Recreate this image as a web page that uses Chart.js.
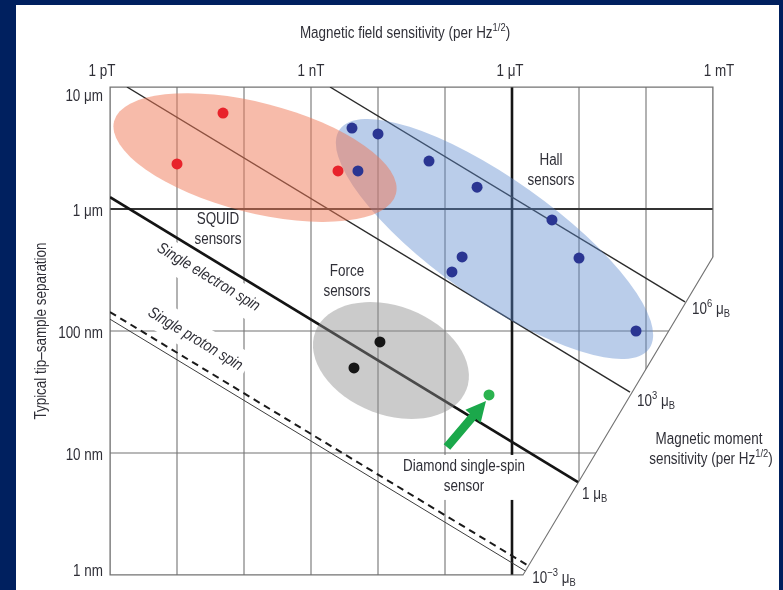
<!DOCTYPE html>
<html lang="en">
<head>
<meta charset="utf-8">
<title>Magnetic sensors: field sensitivity vs tip–sample separation</title>
<script src="https://cdn.jsdelivr.net/npm/chart.js@4.4.1/dist/chart.umd.min.js"></script>
<style>
  html, body { margin: 0; padding: 0; background: #00205f; }
  canvas { display: block; }
</style>
</head>
<body>
<canvas id="chart" width="783" height="590"></canvas>
<script>
// ---------- axes (field in T/√Hz, separation in m) ----------
const fieldGrid = [1e-12, 1e-11, 1e-10, 1e-9, 1e-8, 1e-7, 1e-6, 1e-5, 1e-4, 1e-3];
const distanceGrid = [1e-9, 1e-8, 1e-7, 1e-6, 1e-5];
const fieldTicks = [1e-12, 1e-9, 1e-6, 1e-3];
const fieldTickLabels = ['1 pT', '1 nT', '1 μT', '1 mT'];
const distanceTickLabels = ['1 nm', '10 nm', '100 nm', '1 μm', '10 μm'];

// ---------- reported sensors ----------
const squidField = [4.86e-11, 1.0e-11, 2.53e-9];
const squidDistance = [6.12e-6, 2.34e-6, 2.05e-6];
const hallField = [4.09e-9, 1.0e-8, 5.02e-9, 5.77e-8, 3.01e-7, 3.95e-6, 1.80e-7, 1.27e-7, 1.0e-5, 7.10e-5];
const hallDistance = [4.61e-6, 4.12e-6, 2.05e-6, 2.47e-6, 1.51e-6, 8.13e-7, 4.05e-7, 3.05e-7, 3.96e-7, 1.0e-7];
const forceField = [1.07e-8, 4.38e-9];
const forceDistance = [8.13e-8, 4.98e-8];
const diamondField = [4.54e-7];
const diamondDistance = [2.99e-8];

// ---------- constant magnetic-moment lines (μB per √Hz) ----------
const momentExponents = ['6', '3', '', '−3'];
const momentStartField = [1.92e-9, 1.79e-12, 1e-12, 1e-12];
const momentStartDistance = [1e-5, 1e-5, 1.25e-6, 1.25e-7];
const momentEndField = [3.82e-4, 5.77e-5, 9.66e-6, 1.58e-6];
const momentEndDistance = [1.73e-7, 3.16e-8, 5.78e-9, 1.08e-9];
const protonField = [1e-12, 1.76e-6];
const protonDistance = [1.43e-7, 1.19e-9];
// the slanted moment axis closing the plot on the lower right
const momentAxisField = [1e-3, 1.46e-6];
const momentAxisDistance = [4.05e-7, 1e-9];

// ---------- sensor regions: centre and two conjugate semi-axis ends ----------
const hallRegion = { center: [5.48e-7, 5.68e-7], axisA: [1.12e-4, 7.19e-8], axisB: [1.66e-7, 2.25e-7] };
const forceRegion = { center: [1.56e-8, 5.73e-8], axisA: [2.09e-7, 3.31e-8], axisB: [8.0e-9, 2.20e-8] };
const squidRegion = { center: [1.46e-10, 2.64e-6], axisA: [1.85e-8, 1.33e-6], axisB: [9.08e-11, 9.68e-7] };

// arrow pointing at the diamond sensor
const arrowTail = [1.07e-7, 1.12e-8];
const arrowTip = [4.09e-7, 2.67e-8];

// ---------- look ----------
const FONT = "'Liberation Sans', Arial, sans-serif";
const SQUEEZE = 0.84;          // condensed lettering
const SIZE = 16;
const INK = '#2f2f37';
const NAVY = '#00205f';
const look = {
  grid: { color: '#737373', width: 1.1 },
  fieldMajor: { value: 1e-6, color: '#151515', width: 2.6 },
  distanceMajor: { value: 1e-6, color: '#333333', width: 1.8 },
  moment: [
    { color: '#2b2b2b', width: 1.4, label: [7, 6] },
    { color: '#2b2b2b', width: 1.4, label: [7, 8] },
    { color: '#141414', width: 2.7, label: [4, 11] },
    { color: '#3c3c3c', width: 1.0, label: [7, 6] }
  ],
  proton: { color: '#1a1a1a', width: 2.0, dash: [7, 5] },
  regions: [
    { region: hallRegion, fill: 'rgba(90,135,205,0.42)' },
    { region: forceRegion, fill: 'rgba(140,140,140,0.45)' },
    { region: squidRegion, fill: 'rgba(240,120,85,0.5)' }
  ],
  arrow: { color: '#1ba84b', shaft: 4.3, headHalf: 10, headLength: 20 },
  fieldLabelShift: [-8, 0, -2, 6],
  fieldLabelGap: 17,
  distanceLabelGap: 7
};

const notes = [
  { lines: ['SQUID', 'sensors'], at: [4.09e-11, 6.92e-7] },
  { lines: ['Force', 'sensors'], at: [3.44e-9, 2.59e-7] },
  { lines: ['Hall', 'sensors'], at: [3.82e-6, 2.11e-6] },
  { lines: ['Diamond single-spin', 'sensor'], at: [1.92e-7, 6.61e-9], box: [-46, -20, 112, 45] }
];
const slantNotes = [
  { text: 'Single electron spin', at: [3.01e-11, 2.82e-7], line: 'electron', shift: 3 },
  { text: 'Single proton spin', at: [1.92e-11, 8.77e-8], line: 'proton', shift: 0 }
];

Chart.defaults.font.family = FONT;
Chart.defaults.color = INK;

function px(chart, B, r) {
  return [chart.scales.x.getPixelForValue(B), chart.scales.y.getPixelForValue(r)];
}
function setFont(ctx, size, italic) {
  ctx.font = (italic ? 'italic ' : '') + size + 'px ' + FONT;
}
function richWidth(ctx, parts, size, italic) {
  let w = 0;
  for (const [t, k] of parts) { setFont(ctx, k ? size * 0.7 : size, italic); w += ctx.measureText(t).width; }
  return w * SQUEEZE;
}
// condensed text runs with optional superscript / subscript; y is the visual middle of the capitals
function drawRich(ctx, parts, x, y, size, align, italic) {
  const w = richWidth(ctx, parts, size, italic);
  const x0 = align === 'center' ? x - w / 2 : align === 'right' ? x - w : x;
  ctx.save();
  ctx.translate(x0, y);
  ctx.scale(SQUEEZE, 1);
  ctx.textAlign = 'left';
  ctx.textBaseline = 'alphabetic';
  const base = size * 0.36;
  let cx = 0;
  for (const [t, k] of parts) {
    setFont(ctx, k ? size * 0.7 : size, italic);
    const dy = k === 'sup' ? -size * 0.42 : k === 'sub' ? size * 0.2 : 0;
    ctx.fillText(t, cx, base + dy);
    cx += ctx.measureText(t).width;
  }
  ctx.restore();
}

function lineAngle(chart, which) {
  let a, b;
  if (which === 'proton') {
    a = px(chart, protonField[0], protonDistance[0]);
    b = px(chart, protonField[1], protonDistance[1]);
  } else {
    a = px(chart, momentStartField[2], momentStartDistance[2]);
    b = px(chart, momentEndField[2], momentEndDistance[2]);
  }
  return Math.atan2(b[1] - a[1], b[0] - a[0]);
}

function frameOutline(chart) {
  const xs = chart.scales.x, ys = chart.scales.y;
  const top = ys.getPixelForValue(distanceGrid[distanceGrid.length - 1]);
  const bottom = ys.getPixelForValue(distanceGrid[0]);
  const left = xs.getPixelForValue(fieldGrid[0]);
  const right = xs.getPixelForValue(fieldGrid[fieldGrid.length - 1]);
  return [[left, top], [right, top],
    px(chart, momentAxisField[0], momentAxisDistance[0]),
    px(chart, momentAxisField[1], momentAxisDistance[1]),
    [left, bottom]];
}
function tracePoly(ctx, pts) {
  ctx.beginPath();
  pts.forEach(([x, y], i) => (i ? ctx.lineTo(x, y) : ctx.moveTo(x, y)));
  ctx.closePath();
}

function drawGrid(chart) {
  const ctx = chart.ctx, xs = chart.scales.x, ys = chart.scales.y;
  const outline = frameOutline(chart);
  const top = outline[0][1], bottom = outline[4][1], left = outline[0][0], right = outline[1][0];
  ctx.save();
  tracePoly(ctx, outline);
  ctx.clip();
  const stroke = (s, x0, y0, x1, y1) => {
    ctx.strokeStyle = s.color; ctx.lineWidth = s.width;
    ctx.beginPath(); ctx.moveTo(x0, y0); ctx.lineTo(x1, y1); ctx.stroke();
  };
  distanceGrid.forEach(v => {
    const y = ys.getPixelForValue(v);
    if (v !== look.distanceMajor.value) stroke(look.grid, left, y, right, y);
  });
  fieldGrid.forEach(v => {
    const x = xs.getPixelForValue(v);
    if (v !== look.fieldMajor.value) stroke(look.grid, x, top, x, bottom);
  });
  const ym = ys.getPixelForValue(look.distanceMajor.value);
  stroke(look.distanceMajor, left, ym, right, ym);
  const xm = xs.getPixelForValue(look.fieldMajor.value);
  stroke(look.fieldMajor, xm, top, xm, bottom);
  ctx.restore();

  ctx.save();
  ctx.strokeStyle = look.grid.color; ctx.lineWidth = look.grid.width;
  tracePoly(ctx, outline);
  ctx.stroke();
  ctx.restore();
}

function drawMasks(chart) {
  const ctx = chart.ctx;
  ctx.save();
  ctx.fillStyle = '#ffffff';
  notes.filter(n => n.box).forEach(n => {
    const [x, y] = px(chart, n.at[0], n.at[1]);
    ctx.fillRect(x + n.box[0], y + n.box[1], n.box[2], n.box[3]);
  });
  slantNotes.forEach(n => {
    const [x, y] = px(chart, n.at[0], n.at[1]);
    const w = richWidth(ctx, [[n.text, '']], SIZE, true);
    ctx.save();
    ctx.translate(x, y);
    ctx.rotate(lineAngle(chart, n.line));
    ctx.fillRect(-w / 2 - 5, -15 + n.shift, w + 10, 30);
    ctx.restore();
  });
  ctx.restore();
}

function drawRegions(chart) {
  const ctx = chart.ctx, area = chart.chartArea;
  ctx.save();
  ctx.beginPath();
  ctx.rect(area.left, area.top, area.right - area.left, area.bottom - area.top);
  ctx.clip();
  look.regions.forEach(({ region, fill }) => {
    const c = px(chart, region.center[0], region.center[1]);
    const a = px(chart, region.axisA[0], region.axisA[1]);
    const b = px(chart, region.axisB[0], region.axisB[1]);
    ctx.save();
    ctx.transform(a[0] - c[0], a[1] - c[1], b[0] - c[0], b[1] - c[1], c[0], c[1]);
    ctx.beginPath();
    ctx.arc(0, 0, 1, 0, Math.PI * 2);
    ctx.restore();
    ctx.fillStyle = fill;
    ctx.fill();
  });
  ctx.restore();
}

function drawArrow(chart) {
  const ctx = chart.ctx, s = look.arrow;
  const [tx, ty] = px(chart, arrowTail[0], arrowTail[1]);
  const [hx, hy] = px(chart, arrowTip[0], arrowTip[1]);
  const len = Math.hypot(hx - tx, hy - ty);
  ctx.save();
  ctx.translate(tx, ty);
  ctx.rotate(Math.atan2(hy - ty, hx - tx));
  ctx.beginPath();
  ctx.moveTo(0, -s.shaft);
  ctx.lineTo(len - s.headLength, -s.shaft);
  ctx.lineTo(len - s.headLength, -s.headHalf);
  ctx.lineTo(len, 0);
  ctx.lineTo(len - s.headLength, s.headHalf);
  ctx.lineTo(len - s.headLength, s.shaft);
  ctx.lineTo(0, s.shaft);
  ctx.closePath();
  ctx.fillStyle = s.color;
  ctx.fill();
  ctx.restore();
}

function drawTickLabels(chart) {
  const ctx = chart.ctx, xs = chart.scales.x, ys = chart.scales.y, area = chart.chartArea;
  ctx.save();
  ctx.fillStyle = INK;
  xs.ticks.forEach((t, i) => {
    const x = xs.getPixelForValue(t.value) + look.fieldLabelShift[i];
    drawRich(ctx, [[fieldTickLabels[i], '']], x, area.top - look.fieldLabelGap, SIZE, 'center');
  });
  ys.ticks.forEach((t, i) => {
    // labels are kept inside the vertical extent of the plot
    const y = Math.min(Math.max(ys.getPixelForValue(t.value) + 1.5, area.top + 8), area.bottom - 5);
    drawRich(ctx, [[distanceTickLabels[i], '']], area.left - look.distanceLabelGap, y, SIZE, 'right');
  });
  ctx.restore();
}

function drawTexts(chart) {
  const ctx = chart.ctx;
  ctx.save();
  ctx.fillStyle = INK;
  // region and sensor notes
  notes.forEach(n => {
    const [x, y] = px(chart, n.at[0], n.at[1]);
    const y0 = y - (n.lines.length - 1) * 10;
    n.lines.forEach((t, i) => drawRich(ctx, [[t, '']], x, y0 + i * 20, SIZE, 'center'));
  });
  // notes running along the spin lines
  slantNotes.forEach(n => {
    const [x, y] = px(chart, n.at[0], n.at[1]);
    ctx.save();
    ctx.translate(x, y);
    ctx.rotate(lineAngle(chart, n.line));
    drawRich(ctx, [[n.text, '']], 0, 0, SIZE, 'center', true);
    ctx.restore();
  });
  // moment-axis labels at the end of each line
  momentExponents.forEach((e, i) => {
    const [x, y] = px(chart, momentEndField[i], momentEndDistance[i]);
    const off = look.moment[i].label;
    const parts = e ? [['10', ''], [e, 'sup'], [' ', ''], ['μ', ''], ['B', 'sub']]
                    : [['1', ''], [' ', ''], ['μ', ''], ['B', 'sub']];
    drawRich(ctx, parts, x + off[0], y + off[1], SIZE, 'left');
  });
  // axis titles
  drawRich(ctx, [['Magnetic field sensitivity (per Hz', ''], ['1/2', 'sup'], [')', '']], 405, 32, SIZE, 'center');
  drawRich(ctx, [['Magnetic moment', '']], 709, 438, SIZE, 'center');
  drawRich(ctx, [['sensitivity (per Hz', ''], ['1/2', 'sup'], [')', '']], 711, 458, SIZE, 'center');
  ctx.save();
  ctx.translate(40, 331);
  ctx.rotate(-Math.PI / 2);
  drawRich(ctx, [['Typical tip–sample separation', '']], 0, 0, SIZE, 'center');
  ctx.restore();
  ctx.restore();
}

const backdrop = {
  id: 'backdrop',
  beforeDraw(chart) {
    const ctx = chart.ctx;
    ctx.save();
    ctx.fillStyle = NAVY;
    ctx.fillRect(0, 0, chart.width, chart.height);
    ctx.fillStyle = '#ffffff';
    ctx.fillRect(16, 5, 763, 585);
    ctx.restore();
  }
};

const sensorMap = {
  id: 'sensorMap',
  beforeDatasetsDraw(chart) {
    drawGrid(chart);
    drawMasks(chart);
    chart.$regionsDrawn = false;
  },
  beforeDatasetDraw(chart, args) {
    const ds = chart.data.datasets[args.index];
    if (ds.kind === 'points' && !chart.$regionsDrawn) {
      drawRegions(chart);
      chart.$regionsDrawn = true;
    }
  },
  afterDatasetsDraw(chart) {
    drawArrow(chart);
    drawTickLabels(chart);
    drawTexts(chart);
  }
};

const toXY = (xs, ys) => xs.map((x, i) => ({ x, y: ys[i] }));

const momentSets = momentExponents.map((e, i) => ({
  label: (e ? '10^' + e : '1') + ' μB',
  kind: 'line',
  order: 3,
  showLine: true,
  pointRadius: 0,
  borderColor: look.moment[i].color,
  borderWidth: look.moment[i].width,
  data: [{ x: momentStartField[i], y: momentStartDistance[i] }, { x: momentEndField[i], y: momentEndDistance[i] }]
}));
const protonSet = {
  label: 'Single proton spin', kind: 'line', order: 3, showLine: true, pointRadius: 0,
  borderColor: look.proton.color, borderWidth: look.proton.width, borderDash: look.proton.dash,
  data: toXY(protonField, protonDistance)
};
const pointSet = (label, xs, ys, color) => ({
  label, kind: 'points', order: 1, pointRadius: 5.5, pointBorderWidth: 0,
  backgroundColor: color, borderColor: color, data: toXY(xs, ys)
});

new Chart(document.getElementById('chart'), {
  type: 'scatter',
  data: {
    datasets: [
      pointSet('Diamond single-spin sensor', diamondField, diamondDistance, '#2bb34f'),
      pointSet('Force sensors', forceField, forceDistance, '#161616'),
      pointSet('SQUID sensors', squidField, squidDistance, '#e8232b'),
      pointSet('Hall sensors', hallField, hallDistance, '#2a3592'),
      protonSet,
      ...momentSets
    ]
  },
  options: {
    responsive: false,
    animation: false,
    events: [],
    devicePixelRatio: 1,
    layout: { padding: { left: 0, top: 0, right: 70, bottom: 15 } },
    plugins: { legend: { display: false }, tooltip: { enabled: false } },
    scales: {
      x: {
        type: 'logarithmic', position: 'top', min: 1e-12, max: 1e-3,
        afterBuildTicks: s => { s.ticks = fieldTicks.map(v => ({ value: v })); },
        afterFit: s => { s.height = 87; },
        grid: { display: false, drawTicks: false },
        border: { display: false },
        ticks: { display: false }
      },
      y: {
        type: 'logarithmic', position: 'left', min: 1e-9, max: 1e-5,
        afterBuildTicks: s => { s.ticks = distanceGrid.map(v => ({ value: v })); },
        afterFit: s => { s.width = 110; },
        grid: { display: false, drawTicks: false },
        border: { display: false },
        ticks: { display: false }
      }
    }
  },
  plugins: [backdrop, sensorMap]
});
</script>
</body>
</html>
